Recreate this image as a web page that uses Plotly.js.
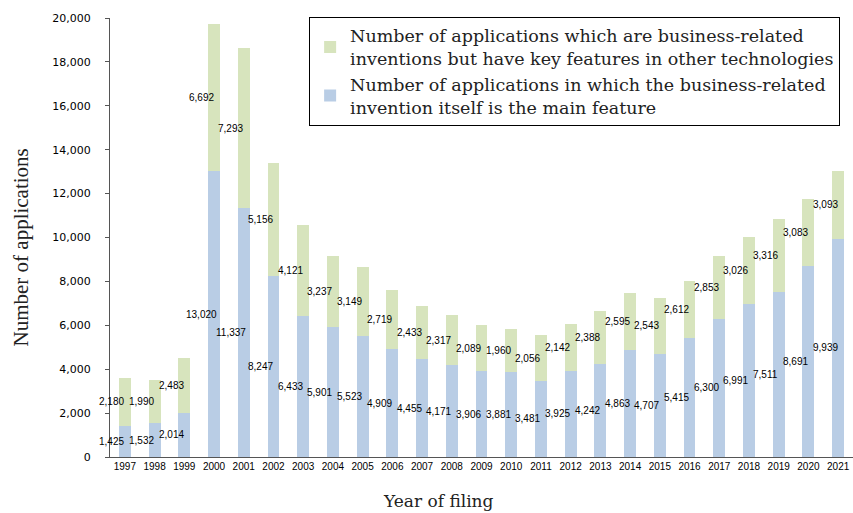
<!DOCTYPE html>
<html>
<head>
<meta charset="utf-8">
<script src="https://cdn.plot.ly/plotly-3.0.1.min.js"></script>
<style>html,body{margin:0;padding:0;background:#fff;}#chart{width:853px;height:513px;}</style>
</head>
<body>
<div id="chart"></div>
<script>
const years = ['1997','1998','1999','2000','2001','2002','2003','2004','2005','2006','2007','2008','2009','2010','2011','2012','2013','2014','2015','2016','2017','2018','2019','2020','2021'];
const mainFeature = [1425,1532,2014,13020,11337,8247,6433,5901,5523,4909,4455,4171,3906,3881,3481,3925,4242,4863,4707,5415,6300,6991,7511,8691,9939];
const otherTech = [2180,1990,2483,6692,7293,5156,4121,3237,3149,2719,2433,2317,2089,1960,2056,2142,2388,2595,2543,2612,2853,3026,3316,3083,3093];
const nameMain = 'Number of applications in which the business-related<br>invention itself is the main feature';
const nameOther = 'Number of applications which are business-related<br>inventions but have key features in other technologies';
const xTitle = 'Year of filing';
const yTitle = 'Number of applications';

const fmt = v => v.toLocaleString('en-US');
const labelFont = {family: 'Liberation Sans, Arial, sans-serif', size: 10, color: '#000'};
const annotations = [];
years.forEach((y, i) => {
  annotations.push({x: i, y: mainFeature[i] / 2, text: fmt(mainFeature[i]), showarrow: false, xshift: -13, font: labelFont});
  annotations.push({x: i, y: mainFeature[i] + otherTech[i] / 2, text: fmt(otherTech[i]), showarrow: false, xshift: -13, font: labelFont});
});
annotations.push({xref: 'paper', yref: 'paper', x: 0, y: 0, xshift: 328, yshift: -44, xanchor: 'center', yanchor: 'middle',
  text: xTitle, showarrow: false, font: {family: 'DejaVu Serif, serif', size: 17, color: '#222'}});
annotations.push({xref: 'paper', yref: 'paper', x: 0, y: 0.5, xshift: -90, yshift: -10, xanchor: 'center', yanchor: 'middle',
  text: yTitle, textangle: -90, showarrow: false, font: {family: 'Liberation Serif, serif', size: 21, color: '#222'}});

const data = [
  {type: 'bar', x: years, y: mainFeature, name: nameMain, marker: {color: '#B9CDE5'}, hoverinfo: 'x+y'},
  {type: 'bar', x: years, y: otherTech, name: nameOther, marker: {color: '#D7E4BD'}, hoverinfo: 'x+y'}
];

const layout = {
  width: 853, height: 513,
  margin: {l: 110, r: 0, t: 18, b: 56},
  barmode: 'stack',
  bargap: 0.6,
  paper_bgcolor: '#fff', plot_bgcolor: '#fff',
  showlegend: true,
  legend: {
    x: 0.268, y: 1.003, xanchor: 'left', yanchor: 'top',
    traceorder: 'reversed',
    bordercolor: '#000', borderwidth: 1, bgcolor: '#fff',
    font: {family: 'DejaVu Serif, serif', size: 17.5, color: '#222'},
    itemwidth: 30, tracegroupgap: 0
  },
  xaxis: {
    type: 'category', range: [-0.5, years.length - 0.5],
    showline: true, linecolor: '#555', linewidth: 1,
    ticks: '', showgrid: false,
    tickfont: {family: 'Liberation Sans, Arial, sans-serif', size: 10, color: '#000'}
  },
  yaxis: {
    range: [0, 20000], dtick: 2000, tickformat: ',d',
    showline: true, linecolor: '#555', linewidth: 1,
    ticks: 'outside', ticklen: 4, tickcolor: '#555',
    ticklabelstandoff: 12,
    showgrid: false, zeroline: false,
    tickfont: {family: 'DejaVu Sans, sans-serif', size: 11, color: '#000'}
  },
  annotations: annotations
};

Plotly.newPlot('chart', data, layout, {displayModeBar: false});
</script>
</body>
</html>
